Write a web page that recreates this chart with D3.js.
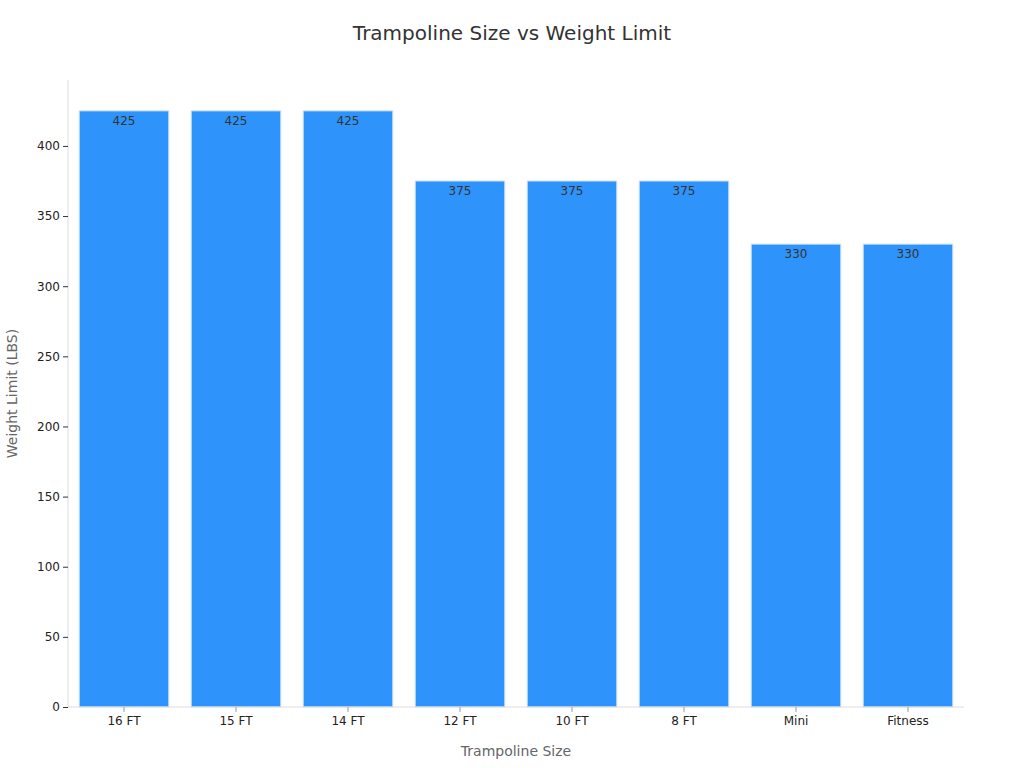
<!DOCTYPE html>
<html><head><meta charset="utf-8">
<script src="https://cdn.jsdelivr.net/npm/d3@7"></script>
<style>body{margin:0;background:#fff;font-family:"DejaVu Sans",sans-serif}</style>
</head><body><svg id="c" width="1024" height="768"></svg>
<script>
const categories = ["16 FT","15 FT","14 FT","12 FT","10 FT","8 FT","Mini","Fitness"];
const weightLimits = [425,425,425,375,375,375,330,330];
const yTicks = [0,50,100,150,200,250,300,350,400];

const svg = d3.select("#c");
const m = {l:68, r:1024-964, t:80, b:768-707};
const W = 1024, H = 768;
const x = d3.scaleBand().domain(categories).range([m.l, W-m.r]).paddingInner(0.2).paddingOuter(0.1);
const y = d3.scaleLinear().domain([0, 447]).range([H-m.b, m.t]);

svg.append("text").attr("x",512).attr("y",40).attr("text-anchor","middle")
  .attr("font-size",20).attr("fill","#333").text("Trampoline Size vs Weight Limit");

svg.selectAll("rect.bar").data(weightLimits).join("rect")
  .attr("x",(d,i)=>x(categories[i])).attr("width",x.bandwidth())
  .attr("y",d=>y(d)).attr("height",d=>y(0)-y(d))
  .attr("fill","#2e93fa").attr("stroke","#cfe3f7").attr("stroke-width",1);

svg.selectAll("text.lbl").data(weightLimits).join("text")
  .attr("x",(d,i)=>x(categories[i])+x.bandwidth()/2).attr("y",d=>y(d)+14)
  .attr("text-anchor","middle").attr("font-size",12).attr("fill","#333").text(d=>d);

const ya = svg.append("g").attr("transform",`translate(${m.l},0)`)
  .call(d3.axisLeft(y).tickValues(yTicks).tickSize(5).tickPadding(3));
ya.selectAll("text").attr("font-size",12).attr("fill","#222").attr("font-family","DejaVu Sans");
ya.selectAll("line").attr("stroke","#333");
ya.select(".domain").attr("stroke","#ddd").attr("d",`M0,${y(0)}V${m.t}`);

const xa = svg.append("g").attr("transform",`translate(0,${y(0)})`)
  .call(d3.axisBottom(x).tickSize(5).tickPadding(4));
xa.selectAll("text").attr("font-size",12).attr("fill","#222").attr("font-family","DejaVu Sans");
xa.selectAll("line").attr("stroke","#999");
xa.select(".domain").attr("stroke","#ddd").attr("d",`M${m.l},0H${W-m.r}`);

svg.append("text").attr("x",(m.l+W-m.r)/2).attr("y",756).attr("text-anchor","middle")
  .attr("font-size",14).attr("fill","#666").text("Trampoline Size");
svg.append("text").attr("transform",`translate(17,${(m.t+H-m.b)/2}) rotate(-90)`)
  .attr("text-anchor","middle").attr("font-size",14).attr("fill","#666").text("Weight Limit (LBS)");
</script></body></html>
